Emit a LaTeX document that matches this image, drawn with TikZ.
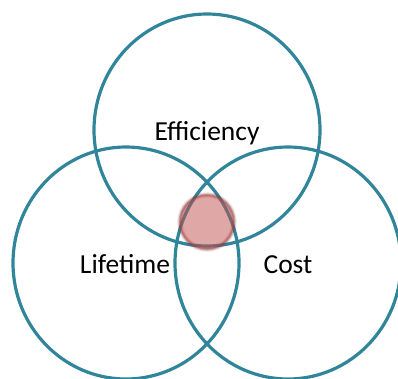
\documentclass[tikz,border=0pt]{standalone}
\usepackage{fontspec}
\setmainfont{Carlito}
\usetikzlibrary{shapes.geometric}
\definecolor{setblue}{RGB}{49,133,155}
\definecolor{corered}{RGB}{192,80,77}
\tikzset{
  setring/.style={ellipse, draw=setblue, line width=3.2pt, minimum width=226pt, minimum height=232pt, inner sep=0pt},
  setlabel/.style={font=\fontsize{27.5}{30}\selectfont, anchor=base, inner sep=0pt},
}

\begin{document}
\begin{tikzpicture}[x=1pt,y=-1pt]
\useasboundingbox (0,0) rectangle (398,378);
\clip (0,0) rectangle (398,378);

%---------------- the three sets -----------------
\node[setring] (eff)  at (207,130) {};
\node[setring] (life) at (126,263) {};
\node[setring] (cost) at (288,263) {};

\node[setlabel] (efftext)  at (207,140) {Efficiency};
\node[setlabel] (lifetext) at (125,273) {Lifetime};
\node[setlabel] (costtext) at (288,273) {Cost};

%---------------- sweet spot in the middle -----------------
\coordinate (core) at (207,222);
% soft rim first, then the see-through disc
\foreach \w/\o in {6/0.08, 4.5/0.14, 3/0.22, 1.6/0.35}
  \draw[corered!70!black, line width=\w pt, opacity=\o] (core) circle (27);
\fill[corered, fill opacity=0.5] (core) circle (27);

\end{tikzpicture}
\end{document}
